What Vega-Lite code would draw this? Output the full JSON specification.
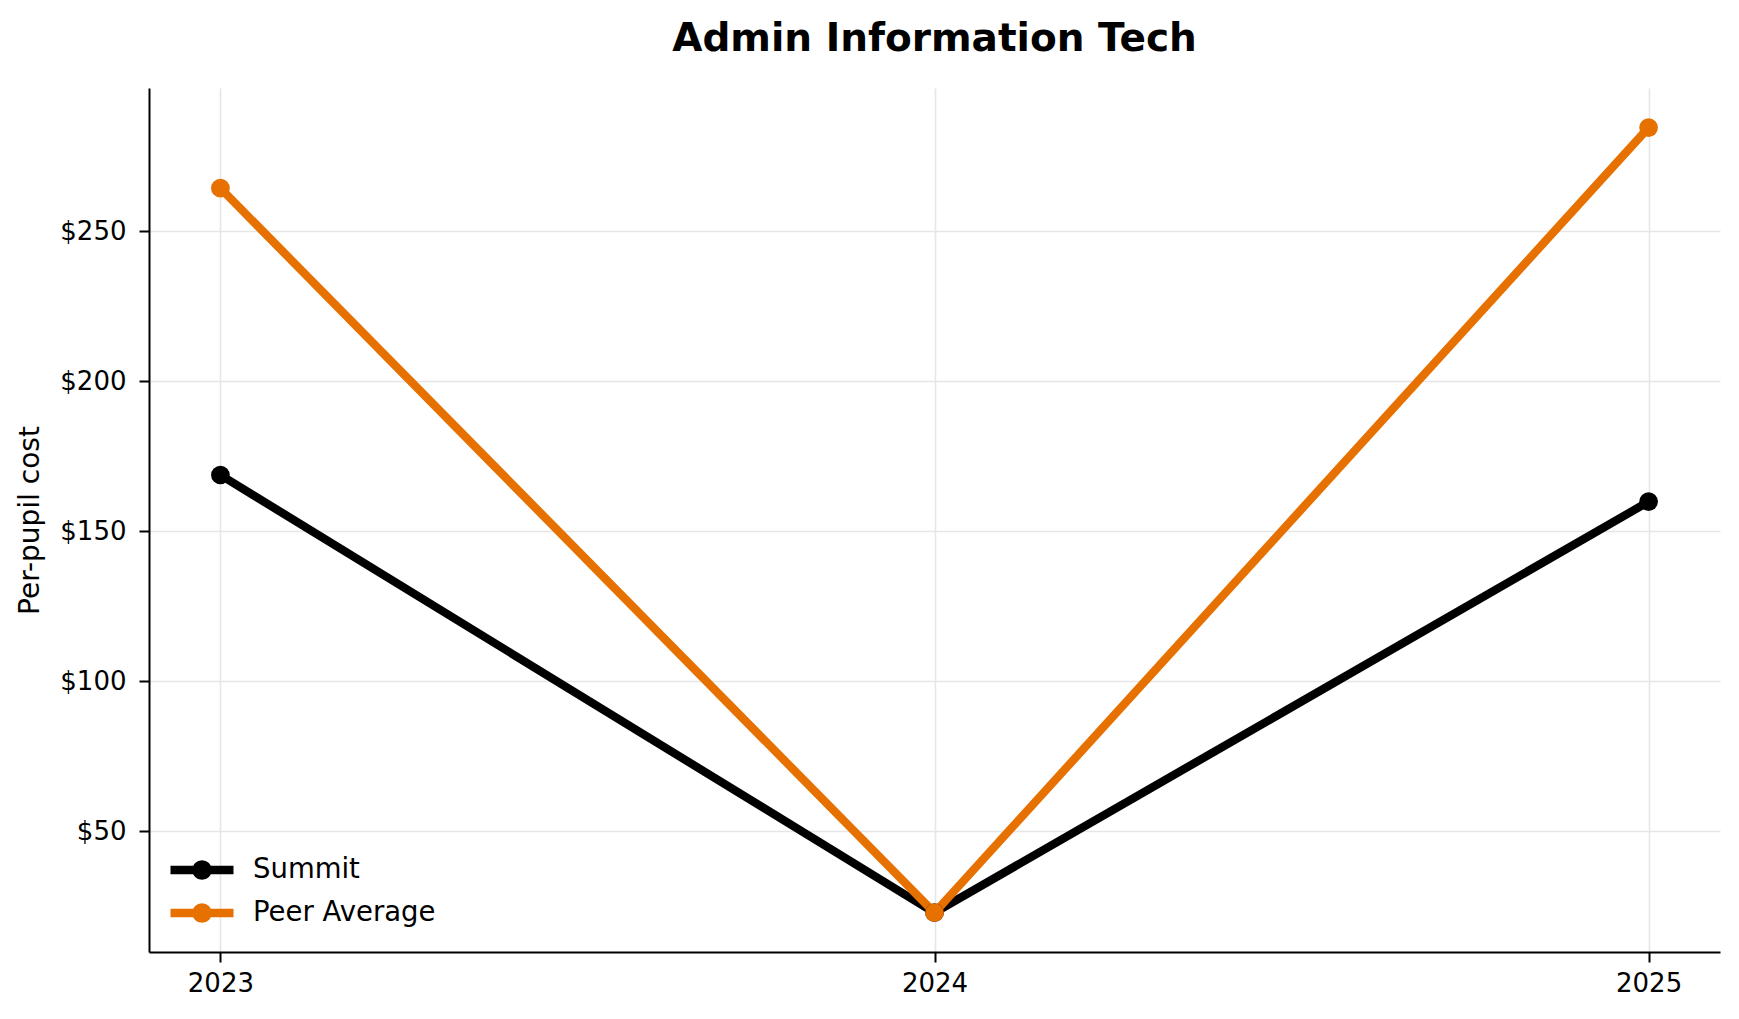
{
  "$schema": "https://vega.github.io/schema/vega-lite/v6.json",
  "autosize": {"type": "none"},
  "width": 1571,
  "height": 864,
  "padding": {"left": 149, "top": 88, "right": 19, "bottom": 67},
  "background": "white",
  "title": {
    "text": "Admin Information Tech",
    "font": "DejaVu Sans",
    "fontSize": 39,
    "fontWeight": "bold",
    "color": "#000000",
    "anchor": "middle",
    "frame": "group",
    "baseline": "alphabetic",
    "offset": -2
  },
  "config": {
    "view": {"stroke": null},
    "font": "DejaVu Sans",
    "axis": {
      "labelFont": "DejaVu Sans",
      "labelFontSize": 26,
      "labelColor": "#000000",
      "titleFont": "DejaVu Sans",
      "titleFontSize": 28,
      "titleFontWeight": "normal",
      "titleColor": "#000000",
      "domainColor": "#000000",
      "domainWidth": 2,
      "tickColor": "#000000",
      "tickWidth": 2,
      "tickSize": 10,
      "gridColor": "#e6e6e6",
      "gridWidth": 1.6
    }
  },
  "data": {
    "values": [
      {"year": 2023, "cost": 168.7, "series": "Summit"},
      {"year": 2024, "cost": 22.8, "series": "Summit"},
      {"year": 2025, "cost": 159.8, "series": "Summit"},
      {"year": 2023, "cost": 264.3, "series": "Peer Average"},
      {"year": 2024, "cost": 22.8, "series": "Peer Average"},
      {"year": 2025, "cost": 284.5, "series": "Peer Average"}
    ]
  },
  "mark": {
    "type": "line",
    "strokeWidth": 8.3,
    "point": {"filled": true, "size": 350, "opacity": 1}
  },
  "encoding": {
    "x": {
      "field": "year",
      "type": "quantitative",
      "title": null,
      "scale": {"domain": [2022.9, 2025.1], "nice": false, "zero": false},
      "axis": {"values": [2023, 2024, 2025], "format": "d", "labelPadding": 8, "grid": true}
    },
    "y": {
      "field": "cost",
      "type": "quantitative",
      "title": "Per-pupil cost",
      "scale": {"domain": [9.7, 297.7], "nice": false, "zero": false},
      "axis": {"values": [50, 100, 150, 200, 250], "format": "$d", "labelPadding": 13, "titlePadding": 15, "grid": true}
    },
    "color": {
      "field": "series",
      "type": "nominal",
      "sort": ["Summit", "Peer Average"],
      "scale": {"domain": ["Summit", "Peer Average"], "range": ["#000000", "#e67100"]},
      "legend": {
        "title": null,
        "orient": "none",
        "legendX": 33,
        "legendY": 762,
        "padding": 0,
        "symbolType": "M-2,0L2,0M0.36,0A0.36,0.36,0,1,1,-0.36,0A0.36,0.36,0,1,1,0.36,0Z",
        "symbolSize": 992,
        "symbolStrokeWidth": 8.3,
        "labelFont": "DejaVu Sans",
        "labelFontSize": 27.5,
        "labelColor": "#000000",
        "labelOffset": 31,
        "labelLimit": 400,
        "rowPadding": -5,
        "encode": {
          "symbols": {
            "update": {
              "fill": {"scale": "color", "field": "value"},
              "stroke": {"scale": "color", "field": "value"},
              "opacity": {"value": 1}
            }
          }
        }
      }
    }
  }
}
